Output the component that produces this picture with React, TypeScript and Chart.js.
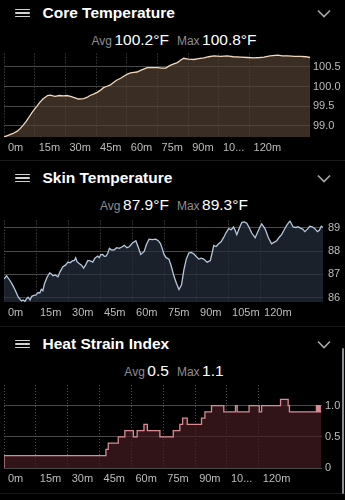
import React, { useEffect, useRef } from "react";
import { Chart, registerables } from "chart.js";

Chart.register(...registerables);

const FONT = '"Liberation Sans", Arial, sans-serif';

// shared time axis (minutes)
const minuteTicks = [0, 15, 30, 45, 60, 75, 90, 105, 120];
const minuteLabelsShort = ["0m", "15m", "30m", "45m", "60m", "75m", "90m", "10...", "120m"];
const minuteLabelsFull = ["0m", "15m", "30m", "45m", "60m", "75m", "90m", "105m", "120m"];
const sessionEnd = 149.5;

// Core temperature (°F)
const coreMinutes = [
  0, 2, 4.4, 6.5, 8, 9.5, 11, 12.5, 14, 16, 17.6, 19, 20, 21.3, 22.5, 24, 25, 27, 29, 30.7,
  32.5, 34, 36.4, 38.9, 40.5, 42, 44, 45.5, 47, 48.6, 50, 52, 53.5, 55, 57, 58.5, 60, 61.8,
  63.5, 65, 67, 70, 72.5, 75, 77, 79, 80.5, 82, 84.7, 86.2, 87.8, 90, 92.8, 95, 97.7, 100,
  102.6, 106, 109, 112, 115.7, 119, 122, 125, 127, 130, 133.8, 136, 138.7, 142, 145, 147.5, 149.5,
];
const coreValues = [
  98.71, 98.75, 98.8, 98.86, 98.93, 99.02, 99.12, 99.24, 99.36, 99.49, 99.6, 99.68, 99.72, 99.77,
  99.78, 99.76, 99.75, 99.77, 99.76, 99.77, 99.75, 99.72, 99.68, 99.69, 99.72, 99.77, 99.81, 99.85,
  99.9, 99.97, 100.0, 100.04, 100.1, 100.16, 100.21, 100.26, 100.31, 100.35, 100.36, 100.37,
  100.42, 100.48, 100.48, 100.48, 100.47, 100.47, 100.52, 100.56, 100.61, 100.67, 100.72, 100.7,
  100.69, 100.71, 100.73, 100.76, 100.78, 100.77, 100.78, 100.76, 100.75, 100.74, 100.73, 100.74,
  100.75, 100.78, 100.8, 100.78, 100.78, 100.77, 100.77, 100.76, 100.74,
];
const coreYTicks = [99.0, 99.5, 100.0, 100.5];

// Skin temperature (°F)
const skinMinutes = [
  0, 1.2, 2.8, 4, 5.1, 6.7, 8.2, 9, 9.8, 10.5, 11.3, 12.2, 13, 13.7, 15, 16, 16.8, 17.5, 18.2,
  19, 20.2, 21.4, 22.2, 23, 24, 25.3, 26.2, 27.6, 28.8, 30, 31, 32, 33, 33.6, 34.2, 35.4, 36.3,
  37.3, 38.2, 39.3, 40.4, 41.6, 42.6, 43.9, 44.6, 45.4, 46.2, 47, 47.8, 48.6, 49.4, 50.5, 51.7,
  52.8, 54, 55.2, 56.4, 57.6, 58.7, 60.2, 61.8, 62.8, 64.1, 65.7, 66.8, 68, 69.5, 71.1, 72.3,
  73.4, 74.2, 75, 76, 77.3, 78.4, 79.6, 80.8, 82, 83.2, 84.3, 85.4, 86.6, 87.8, 89, 90.2, 91.3,
  92.4, 93.6, 95.2, 96.7, 97.6, 98.3, 99.4, 100.6, 101.7, 102.9, 104.1, 105.3, 106.5, 107.6,
  108.3, 109.1, 110.3, 111.5, 112.6, 113.8, 115, 116.1, 117.7, 118.8, 120, 120.8, 122.3, 123.1,
  123.9, 125.4, 126.5, 127.8, 129, 130.1, 131.2, 132.4, 134, 135.5, 136.8, 137.8, 138.7, 140,
  141, 142.2, 143.3, 144.5, 145.7, 146.9, 147.8, 148.7, 149.5,
];
const skinValues = [
  86.8, 86.94, 86.74, 86.55, 86.35, 86.02, 85.86, 85.9, 85.84, 85.95, 86.02, 85.9, 86.06, 86.09,
  86.12, 86.22, 86.2, 86.36, 86.3, 86.61, 86.88, 87.07, 87.02, 86.94, 86.98, 86.9, 87.1, 87.33,
  87.4, 87.53, 87.5, 87.58, 87.6, 87.72, 87.55, 87.46, 87.4, 87.27, 87.4, 87.6, 87.58, 87.53,
  87.7, 87.79, 87.72, 87.85, 87.86, 87.78, 87.79, 87.9, 88.12, 88.05, 88.06, 88.15, 88.12, 88.18,
  88.25, 88.15, 88.19, 88.35, 88.45, 88.2, 87.86, 87.99, 88.3, 88.52, 88.5, 88.52, 88.45, 88.32,
  88.1, 87.86, 87.72, 87.66, 87.35, 86.94, 86.62, 86.35, 86.55, 87.2, 87.65, 87.92, 87.95, 87.88,
  87.76, 87.66, 87.7, 87.66, 87.53, 87.6, 87.95, 88.25, 88.2, 88.32, 88.4, 88.58, 88.8, 88.97,
  88.92, 89.04, 88.9, 88.71, 89.0, 89.24, 89.26, 89.2, 89.0, 88.78, 88.58, 88.8, 89.05, 89.17,
  88.97, 88.78, 88.58, 88.32, 88.38, 88.45, 88.6, 88.71, 88.9, 89.1, 89.3, 89.04, 89.02, 89.05,
  89.0, 88.95, 88.84, 88.95, 89.07, 89.05, 88.97, 88.84, 88.9, 89.07, 89.02,
];
const skinYTicks = [86, 87, 88, 89];

// Heat strain index (each value holds until the next change)
const heatMinutes = [
  0, 48.0, 49.1, 53.8, 56.9, 60.9, 62.7, 65.9, 67.5, 73.4, 79.7, 82.8, 84.1, 86.3, 93.0, 94.6,
  97.7, 103.5, 109.0, 109.8, 115.4, 120.2, 121.3, 130.2, 133.8, 134.4, 147.1, 147.7, 148.3, 148.9, 149.5,
];
const heatValues = [
  0, 0.2, 0.3, 0.4, 0.5, 0.6, 0.5, 0.6, 0.7, 0.6, 0.5, 0.6, 0.7, 0.8, 0.7, 0.8, 0.9, 1.0, 0.9,
  1.0, 0.9, 1.0, 0.9, 1.0, 1.1, 1.0, 0.9, 1.0, 0.9, 1.0, 0.9,
];
const heatYTicks = [0, 0.5, 1.0];

const CANVAS_H = 116;
const PLOT_TOP = 4;
const PLOT_H = 89;

type TrendProps = {
  top: number;
  minutes: number[];
  values: number[];
  xLabels: string[];
  yTicks: number[];
  yMin: number;
  yMax: number;
  yFormat: (v: number) => string;
  plotRight: number;
  labelPad: number;
  lineColor: string;
  fillColor: string;
  stepped?: boolean;
};

function TrendChart(p: TrendProps) {
  const ref = useRef<HTMLCanvasElement>(null);
  useEffect(() => {
    const chart = new Chart(ref.current as HTMLCanvasElement, {
      type: "line",
      data: {
        datasets: [
          {
            data: p.minutes.map((m, i) => ({ x: m, y: p.values[i] })),
            borderColor: p.lineColor,
            backgroundColor: p.fillColor,
            borderWidth: 1.3,
            pointRadius: 0,
            fill: "start",
            tension: 0,
            stepped: p.stepped ? "after" : false,
          },
        ],
      },
      options: {
        animation: false,
        responsive: false,
        maintainAspectRatio: false,
        events: [],
        layout: { padding: { left: 4, top: PLOT_TOP, right: 0, bottom: 0 } },
        plugins: { legend: { display: false }, tooltip: { enabled: false } },
        scales: {
          x: {
            type: "linear",
            min: 0,
            max: sessionEnd,
            afterBuildTicks: (s: any) => {
              s.ticks = minuteTicks.map((v) => ({ value: v }));
            },
            afterFit: (s: any) => {
              s.height = CANVAS_H - PLOT_TOP - PLOT_H;
            },
            grid: { color: "#555555", lineWidth: 1, drawTicks: false },
            border: { display: false, dash: [1, 2] },
            ticks: {
              align: "start",
              labelOffset: 4,
              padding: 4,
              maxRotation: 0,
              autoSkip: false,
              color: "#bdbdbd",
              font: { family: FONT, size: 11 },
              callback: (v: any) => p.xLabels[minuteTicks.indexOf(Number(v))] ?? "",
            },
          },
          y: {
            type: "linear",
            position: "right",
            min: p.yMin,
            max: p.yMax,
            afterBuildTicks: (s: any) => {
              s.ticks = p.yTicks.map((v) => ({ value: v }));
            },
            afterFit: (s: any) => {
              s.width = 345 - p.plotRight;
            },
            grid: { color: "#484848", lineWidth: 1, drawTicks: false },
            border: { display: false },
            ticks: {
              padding: p.labelPad,
              color: "#bdbdbd",
              font: { family: FONT, size: 11 },
              callback: (v: any) => p.yFormat(Number(v)),
            },
          },
        },
      },
    } as any);
    return () => chart.destroy();
  }, []);
  return (
    <canvas
      ref={ref}
      width={345}
      height={CANVAS_H}
      style={{ position: "absolute", left: 0, top: p.top + 44, width: 345, height: CANVAS_H }}
    />
  );
}

function SectionHeader({ top, title }: { top: number; title: string }) {
  const c = top + 13;
  const bar = (y: number) => (
    <div
      style={{
        position: "absolute",
        left: 15,
        top: y,
        width: 15,
        height: 1.6,
        borderRadius: 1,
        background: "#d2d2d2",
      }}
    />
  );
  return (
    <>
      {bar(c - 4.3)}
      {bar(c - 0.8)}
      {bar(c + 2.7)}
      <div
        style={{
          position: "absolute",
          left: 42.5,
          top: c - 10,
          height: 20,
          lineHeight: "20px",
          fontFamily: FONT,
          fontWeight: 700,
          fontSize: 15.5,
          color: "#ffffff",
          whiteSpace: "nowrap",
        }}
      >
        {title}
      </div>
      <svg
        width={14}
        height={9}
        style={{ position: "absolute", left: 317, top: c - 4 }}
        viewBox="0 0 14 9"
      >
        <polyline points="1,1.5 7,7.5 13,1.5" fill="none" stroke="#a8a8a8" strokeWidth={1.6} />
      </svg>
    </>
  );
}

function Stats({ top, avg, max }: { top: number; avg: string; max: string }) {
  const small = { fontSize: 12, color: "#8e8e93" };
  const big = { fontSize: 15.5, color: "#ffffff" };
  return (
    <div
      style={{
        position: "absolute",
        left: 1.5,
        width: 345,
        top: top + 40 - 10,
        height: 20,
        lineHeight: "20px",
        textAlign: "center",
        fontFamily: FONT,
        whiteSpace: "nowrap",
      }}
    >
      <span style={{ ...small, marginRight: 2.5 }}>Avg</span>
      <span style={{ ...big, marginRight: 8 }}>{avg}</span>
      <span style={{ ...small, marginRight: 2.5 }}>Max</span>
      <span style={big}>{max}</span>
    </div>
  );
}

function Divider({ y }: { y: number }) {
  return (
    <div style={{ position: "absolute", left: 0, top: y, width: 345, height: 1, background: "#1a1a1a" }} />
  );
}

export default function App() {
  return (
    <div style={{ position: "fixed", inset: 0, background: "#000000", overflow: "hidden" }}>
      <SectionHeader top={0} title="Core Temperature" />
      <Stats top={0} avg="100.2°F" max="100.8°F" />
      <TrendChart
        top={0}
        minutes={coreMinutes}
        values={coreValues}
        xLabels={minuteLabelsShort}
        yTicks={coreYTicks}
        yMin={98.71}
        yMax={100.84}
        yFormat={(v) => v.toFixed(1)}
        plotRight={310}
        labelPad={3}
        lineColor="#f3d8bd"
        fillColor="rgba(83,64,50,0.7)"
      />
      <Divider y={160} />

      <SectionHeader top={165} title="Skin Temperature" />
      <Stats top={165} avg="87.9°F" max="89.3°F" />
      <TrendChart
        top={165}
        minutes={skinMinutes}
        values={skinValues}
        xLabels={minuteLabelsFull}
        yTicks={skinYTicks}
        yMin={85.815}
        yMax={89.315}
        yFormat={(v) => String(v)}
        plotRight={323}
        labelPad={5}
        lineColor="#b4c8de"
        fillColor="rgba(39,47,60,0.7)"
      />
      <Divider y={326} />

      <SectionHeader top={331} title="Heat Strain Index" />
      <Stats top={331} avg="0.5" max="1.1" />
      <TrendChart
        top={331}
        minutes={heatMinutes}
        values={heatValues}
        xLabels={minuteLabelsShort}
        yTicks={heatYTicks}
        yMin={0}
        yMax={1.33}
        yFormat={(v) => (v === 0 ? "0" : v.toFixed(1))}
        plotRight={321.5}
        labelPad={3.5}
        lineColor="#d98a93"
        fillColor="rgba(69,29,34,0.7)"
        stepped
      />
      <Divider y={493} />
      <div
        style={{
          position: "absolute",
          left: 341.5,
          top: 348,
          width: 2.5,
          height: 146,
          borderRadius: 2,
          background: "#8e8e93",
        }}
      />
    </div>
  );
}
